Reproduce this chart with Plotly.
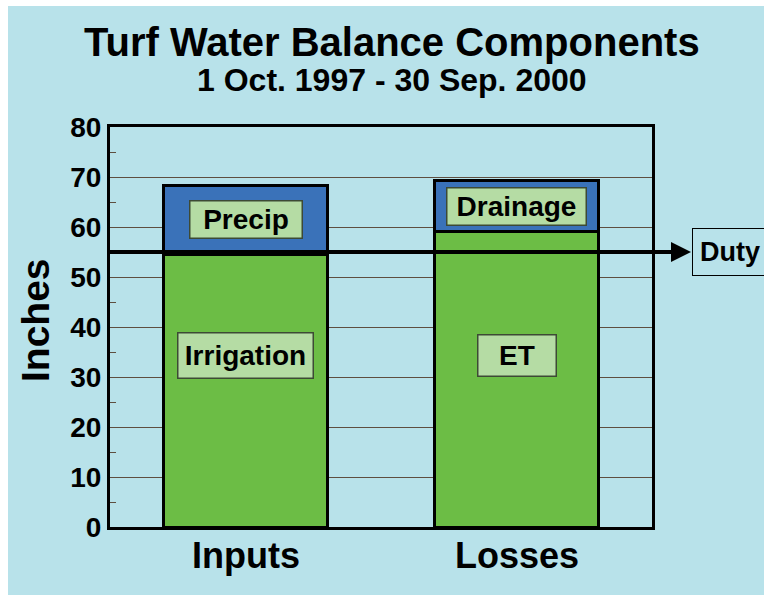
import plotly.graph_objects as go

categories = ["Inputs", "Losses"]
lower_labels = ["Irrigation", "ET"]
upper_labels = ["Precip", "Drainage"]
lower_values = [54.5, 59.2]
upper_values = [13.9, 10.2]
duty_value = 55
y_ticks = [0, 10, 20, 30, 40, 50, 60, 70, 80]

BLUE_BG = "#B8E2EA"
PEACH = "#FADCBF"
GREEN = "#6CBD45"
BLUE = "#3A72B9"
BOX = "#B5DCA4"
FONT = "Liberation Sans"

fig = go.Figure()
fig.add_trace(go.Bar(x=categories, y=lower_values, marker=dict(color=GREEN, line=dict(color="black", width=3)),
                     hoverinfo="skip", showlegend=False))
fig.add_trace(go.Bar(x=categories, y=upper_values, marker=dict(color=BLUE, line=dict(color="black", width=3)),
                     hoverinfo="skip", showlegend=False))

W, H = 764, 595
L, T = 110, 127
R = W - 652
B = H - 527
pw, ph = W - L - R, H - T - B

def px(x):  # screen x -> paper
    return (x - L) / pw

def py(y):  # screen y -> paper
    return (H - B - y) / ph

shapes = [
    dict(type="rect", xref="paper", yref="paper", x0=px(8), x1=px(W + 5), y0=py(H + 5), y1=py(6),
         fillcolor=BLUE_BG, line=dict(width=0), layer="below"),
    dict(type="line", xref="paper", yref="y", x0=0, x1=px(676), y0=duty_value, y1=duty_value,
         line=dict(color="black", width=4)),
]

annotations = [
    dict(text="<b>Turf Water Balance Components</b>", xref="paper", yref="paper", x=px(392), y=py(42),
         xanchor="center", yanchor="middle", showarrow=False, font=dict(family=FONT, size=40, color="black")),
    dict(text="<b>1 Oct. 1997 - 30 Sep. 2000</b>", xref="paper", yref="paper", x=px(392), y=py(80),
         xanchor="center", yanchor="middle", showarrow=False, font=dict(family=FONT, size=32, color="black")),
    dict(text="<b>Inches</b>", xref="paper", yref="paper", x=px(35), y=py(320), textangle=-90,
         xanchor="center", yanchor="middle", showarrow=False, font=dict(family=FONT, size=39, color="black")),
    dict(text="", xref="paper", yref="y", x=px(691), y=duty_value, ax=-22, ay=0,
         showarrow=True, arrowhead=2, arrowsize=1, arrowwidth=4, arrowcolor="black"),
    dict(text="<b>Duty</b>", xref="paper", yref="y", x=px(692), y=duty_value, xanchor="left", yanchor="middle",
         showarrow=False, width=74, height=46, borderpad=0, bordercolor="black", borderwidth=1,
         font=dict(family=FONT, size=27, color="black")),
]

for cat in categories:
    annotations.append(dict(text=f"<b>{cat}</b>", x=cat, xref="x", yref="paper", y=py(555),
                            xanchor="center", yanchor="middle", showarrow=False,
                            font=dict(family=FONT, size=36, color="black")))

box_specs = [
    (categories[0], lower_labels[0], lower_values[0] * 0.628, 134, 44),
    (categories[1], lower_labels[1], lower_values[1] * 0.578, 77, 40),
    (categories[0], upper_labels[0], lower_values[0] + upper_values[0] * 0.51, 111, 36),
    (categories[1], upper_labels[1], lower_values[1] + upper_values[1] * 0.49, 138, 36),
]
for cat, label, yv, bw, bh in box_specs:
    annotations.append(dict(text=f"<b>{label}</b>", x=cat, y=yv, xref="x", yref="y", showarrow=False,
                            xanchor="center", yanchor="middle",
                            width=bw, height=bh, borderpad=0, bgcolor=BOX, bordercolor="#3d4a35",
                            borderwidth=1.5, font=dict(family=FONT, size=28, color="black")))

fig.update_layout(
    width=W, height=H,
    margin=dict(l=L, r=R, t=T, b=B),
    paper_bgcolor="white", plot_bgcolor=PEACH,
    barmode="stack", bargap=0.395,
    shapes=shapes, annotations=annotations,
    font=dict(family=FONT, color="black"),
)
fig.update_xaxes(showline=True, linecolor="black", linewidth=3, mirror=True, showgrid=False,
                 showticklabels=False, ticks="")
fig.update_yaxes(range=[0, 80], tickvals=y_ticks, ticktext=[f"<b>{v}</b>" for v in y_ticks],
                 tickfont=dict(family=FONT, size=28, color="black"),
                 showline=True, linecolor="black", linewidth=3, mirror=True,
                 showgrid=True, gridcolor="#5e4e40", gridwidth=1.2, zeroline=False, ticks="",
                 minor=dict(tickvals=[5, 15, 25, 35, 45, 55, 65, 75], ticks="inside", ticklen=6,
                            tickcolor="#5e4e40", tickwidth=1.2, showgrid=False))

fig.write_html("out.html", config={"displayModeBar": False},
               post_script="document.body.style.margin='0';document.body.style.overflow='hidden';"
                           "document.body.style.background='" + BLUE_BG + "';"
                           "document.documentElement.style.background='" + BLUE_BG + "';")
